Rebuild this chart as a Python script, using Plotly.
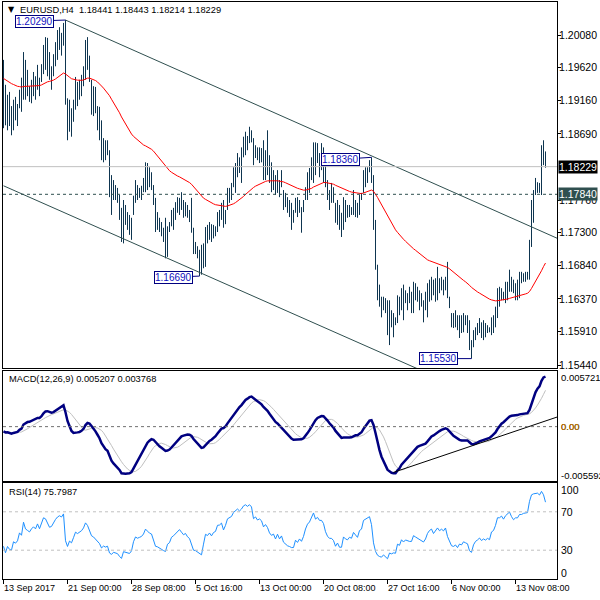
import numpy as np
import pandas as pd
import plotly.graph_objects as go

# ---------------- data (EURUSD H4, bars 13 Sep 16:00 .. 15 Nov 16:00) ----------------
high = [
1.1973, 1.1938, 1.1924, 1.1928, 1.1908, 1.1917, 1.1921, 1.1911, 1.1931, 1.1948,
1.1984, 1.1973, 1.1959, 1.1936, 1.1945, 1.1956, 1.1950, 1.1966, 1.1948, 1.1967,
1.1994, 1.2005, 1.2004, 1.1984, 1.1964, 1.1981, 1.1998, 1.2015, 1.2019, 1.2011,
1.2025, 1.2029, 1.1919, 1.1917, 1.1905, 1.1917, 1.1949, 1.1942, 1.1945, 1.1952,
1.1964, 1.2001, 1.2005, 1.1979, 1.1945, 1.1936, 1.1935, 1.1908, 1.1907, 1.1888,
1.1863, 1.1860, 1.1860, 1.1846, 1.1811, 1.1804, 1.1797, 1.1793, 1.1783, 1.1765,
1.1776, 1.1769, 1.1759, 1.1755, 1.1751, 1.1782, 1.1804, 1.1797, 1.1793, 1.1796,
1.1807, 1.1829, 1.1828, 1.1822, 1.1815, 1.1797, 1.1779, 1.1759, 1.1751, 1.1745,
1.1737, 1.1751, 1.1739, 1.1745, 1.1762, 1.1765, 1.1773, 1.1780, 1.1779, 1.1787,
1.1776, 1.1773, 1.1769, 1.1762, 1.1779, 1.1737, 1.1717, 1.1711, 1.1706, 1.1713,
1.1715, 1.1738, 1.1741, 1.1745, 1.1742, 1.1741, 1.1739, 1.1759, 1.1762, 1.1772,
1.1776, 1.1762, 1.1793, 1.1793, 1.1800, 1.1822, 1.1828, 1.1842, 1.1836, 1.1850,
1.1865, 1.1872, 1.1866, 1.1879, 1.1874, 1.1863, 1.1853, 1.1850, 1.1850, 1.1849,
1.1860, 1.1846, 1.1874, 1.1839, 1.1829, 1.1818, 1.1811, 1.1818, 1.1804, 1.1818,
1.1790, 1.1786, 1.1780, 1.1776, 1.1772, 1.1762, 1.1779, 1.1780, 1.1776, 1.1766,
1.1776, 1.1794, 1.1815, 1.1821, 1.1836, 1.1857, 1.1857, 1.1856, 1.1842, 1.1856,
1.1850, 1.1829, 1.1804, 1.1790, 1.1800, 1.1794, 1.1772, 1.1776, 1.1769, 1.1758,
1.1780, 1.1776, 1.1769, 1.1769, 1.1766, 1.1790, 1.1776, 1.1772, 1.1783, 1.1786,
1.1818, 1.1822, 1.1822, 1.1832, 1.1836, 1.1811, 1.1748, 1.1685, 1.1657, 1.1640,
1.1640, 1.1638, 1.1635, 1.1635, 1.1621, 1.1617, 1.1611, 1.1642, 1.1640, 1.1652,
1.1657, 1.1649, 1.1645, 1.1654, 1.1647, 1.1661, 1.1659, 1.1654, 1.1649, 1.1645,
1.1635, 1.1647, 1.1659, 1.1664, 1.1668, 1.1664, 1.1666, 1.1682, 1.1666, 1.1668,
1.1664, 1.1668, 1.1689, 1.1640, 1.1617, 1.1617, 1.1621, 1.1614, 1.1614, 1.1614,
1.1617, 1.1614, 1.1614, 1.1607, 1.1579, 1.1593, 1.1597, 1.1603, 1.1610, 1.1604,
1.1607, 1.1603, 1.1600, 1.1597, 1.1611, 1.1614, 1.1626, 1.1652, 1.1654, 1.1652,
1.1647, 1.1661, 1.1661, 1.1678, 1.1668, 1.1664, 1.1659, 1.1664, 1.1675, 1.1675,
1.1673, 1.1675, 1.1675, 1.1720, 1.1776, 1.1790, 1.1807, 1.1801, 1.1800, 1.1853,
1.1860, 1.18443,
]

low = [
1.1877, 1.1881, 1.1874, 1.1880, 1.1867, 1.1874, 1.1888, 1.1880, 1.1905, 1.1900,
1.1917, 1.1917, 1.1922, 1.1914, 1.1912, 1.1922, 1.1917, 1.1931, 1.1922, 1.1942,
1.1953, 1.1959, 1.1950, 1.1945, 1.1931, 1.1950, 1.1964, 1.1973, 1.1987, 1.1979,
1.1993, 1.1910, 1.1860, 1.1872, 1.1865, 1.1886, 1.1903, 1.1908, 1.1917, 1.1922,
1.1936, 1.1945, 1.1959, 1.1942, 1.1896, 1.1894, 1.1898, 1.1874, 1.1860, 1.1832,
1.1829, 1.1832, 1.1839, 1.1780, 1.1755, 1.1776, 1.1776, 1.1772, 1.1748, 1.1717,
1.1715, 1.1741, 1.1734, 1.1727, 1.1720, 1.1755, 1.1772, 1.1776, 1.1779, 1.1776,
1.1787, 1.1787, 1.1790, 1.1794, 1.1790, 1.1769, 1.1731, 1.1734, 1.1731, 1.1725,
1.1717, 1.1694, 1.1696, 1.1731, 1.1739, 1.1734, 1.1748, 1.1758, 1.1755, 1.1762,
1.1751, 1.1753, 1.1751, 1.1745, 1.1730, 1.1700, 1.1700, 1.1694, 1.1669, 1.1671,
1.1680, 1.1682, 1.1715, 1.1720, 1.1717, 1.1722, 1.1725, 1.1731, 1.1739, 1.1748,
1.1737, 1.1742, 1.1762, 1.1772, 1.1776, 1.1794, 1.1786, 1.1808, 1.1814, 1.1800,
1.1836, 1.1839, 1.1846, 1.1856, 1.1857, 1.1825, 1.1835, 1.1832, 1.1828, 1.1829,
1.1804, 1.1804, 1.1811, 1.1800, 1.1787, 1.1790, 1.1783, 1.1786, 1.1780, 1.1794,
1.1762, 1.1766, 1.1758, 1.1752, 1.1734, 1.1744, 1.1758, 1.1752, 1.1758, 1.1730,
1.1759, 1.1776, 1.1776, 1.1786, 1.1804, 1.1800, 1.1811, 1.1828, 1.1808, 1.1818,
1.1800, 1.1794, 1.1776, 1.1762, 1.1772, 1.1772, 1.1744, 1.1741, 1.1734, 1.1724,
1.1734, 1.1745, 1.1751, 1.1752, 1.1755, 1.1755, 1.1752, 1.1751, 1.1755, 1.1776,
1.1786, 1.1794, 1.1800, 1.1815, 1.1800, 1.1734, 1.1678, 1.1635, 1.1626, 1.1611,
1.1621, 1.1617, 1.1586, 1.1572, 1.1597, 1.1583, 1.1600, 1.1603, 1.1614, 1.1621,
1.1607, 1.1631, 1.1621, 1.1631, 1.1617, 1.1617, 1.1635, 1.1633, 1.1621, 1.1626,
1.1604, 1.1621, 1.1611, 1.1633, 1.1635, 1.1642, 1.1633, 1.1635, 1.1645, 1.1649,
1.1642, 1.1649, 1.1638, 1.1624, 1.1597, 1.1596, 1.1597, 1.1593, 1.1582, 1.1589,
1.1590, 1.1600, 1.1589, 1.1565, 1.1553, 1.1569, 1.1579, 1.1586, 1.1589, 1.1582,
1.1579, 1.1583, 1.1589, 1.1590, 1.1586, 1.1589, 1.1597, 1.1610, 1.1626, 1.1635,
1.1635, 1.1631, 1.1635, 1.1647, 1.1647, 1.1645, 1.1635, 1.1635, 1.1638, 1.1659,
1.1661, 1.1661, 1.1664, 1.1664, 1.1710, 1.1744, 1.1783, 1.1786, 1.1786, 1.1783,
1.1825, 1.18214,
]

close = [
1.1917, 1.1891, 1.1903, 1.1891, 1.1888, 1.1905, 1.1900, 1.1905, 1.1924, 1.1917,
1.1959, 1.1938, 1.1933, 1.1928, 1.1938, 1.1945, 1.1939, 1.1956, 1.1942, 1.1964,
1.1987, 1.1984, 1.1970, 1.1959, 1.1962, 1.1976, 1.1990, 1.2001, 1.2007, 1.2004,
1.2018, 1.1917, 1.1877, 1.1900, 1.1888, 1.1911, 1.1939, 1.1931, 1.1936, 1.1945,
1.1959, 1.1987, 1.1976, 1.1948, 1.1924, 1.1917, 1.1903, 1.1888, 1.1877, 1.1846,
1.1853, 1.1846, 1.1849, 1.1797, 1.1783, 1.1790, 1.1787, 1.1779, 1.1755, 1.1734,
1.1755, 1.1751, 1.1748, 1.1741, 1.1748, 1.1776, 1.1793, 1.1787, 1.1790, 1.1793,
1.1801, 1.1818, 1.1811, 1.1804, 1.1801, 1.1776, 1.1748, 1.1745, 1.1737, 1.1734,
1.1725, 1.1720, 1.1737, 1.1741, 1.1755, 1.1759, 1.1765, 1.1769, 1.1776, 1.1769,
1.1762, 1.1765, 1.1756, 1.1751, 1.1734, 1.1708, 1.1706, 1.1699, 1.1689, 1.1685,
1.1706, 1.1731, 1.1727, 1.1734, 1.1725, 1.1734, 1.1737, 1.1755, 1.1756, 1.1762,
1.1745, 1.1759, 1.1783, 1.1787, 1.1793, 1.1811, 1.1818, 1.1829, 1.1825, 1.1835,
1.1853, 1.1860, 1.1857, 1.1867, 1.1863, 1.1839, 1.1846, 1.1839, 1.1843, 1.1839,
1.1825, 1.1832, 1.1825, 1.1811, 1.1804, 1.1807, 1.1793, 1.1804, 1.1790, 1.1797,
1.1776, 1.1769, 1.1762, 1.1759, 1.1755, 1.1755, 1.1769, 1.1762, 1.1769, 1.1762,
1.1772, 1.1790, 1.1804, 1.1811, 1.1825, 1.1846, 1.1832, 1.1839, 1.1832, 1.1832,
1.1825, 1.1804, 1.1790, 1.1783, 1.1783, 1.1776, 1.1755, 1.1762, 1.1745, 1.1745,
1.1769, 1.1762, 1.1759, 1.1765, 1.1762, 1.1776, 1.1769, 1.1762, 1.1779, 1.1783,
1.1811, 1.1815, 1.1818, 1.1825, 1.1807, 1.1741, 1.1685, 1.1649, 1.1635, 1.1628,
1.1635, 1.1621, 1.1596, 1.1614, 1.1607, 1.1610, 1.1607, 1.1635, 1.1628, 1.1647,
1.1635, 1.1642, 1.1638, 1.1635, 1.1635, 1.1652, 1.1647, 1.1642, 1.1635, 1.1631,
1.1628, 1.1635, 1.1649, 1.1657, 1.1661, 1.1649, 1.1657, 1.1664, 1.1657, 1.1661,
1.1657, 1.1664, 1.1642, 1.1628, 1.1610, 1.1607, 1.1610, 1.1600, 1.1607, 1.1604,
1.1610, 1.1607, 1.1604, 1.1579, 1.1572, 1.1586, 1.1593, 1.1596, 1.1600, 1.1593,
1.1596, 1.1593, 1.1596, 1.1593, 1.1607, 1.1610, 1.1621, 1.1642, 1.1642, 1.1647,
1.1642, 1.1652, 1.1657, 1.1664, 1.1657, 1.1652, 1.1657, 1.1657, 1.1666, 1.1666,
1.1669, 1.1671, 1.1671, 1.1713, 1.1769, 1.1783, 1.1790, 1.1793, 1.1790, 1.1846,
1.1839, 1.18229,
]

tick_bars = [0, 32, 64, 96, 128, 160, 192, 224, 256]
tick_labels = ["13 Sep 2017", "21 Sep 00:00", "28 Sep 08:00", "5 Oct 16:00",
               "13 Oct 00:00", "20 Oct 08:00", "27 Oct 16:00", "6 Nov 00:00",
               "13 Nov 08:00"]
price_ticks = [1.20080, 1.19620, 1.19160, 1.18690, 1.17760, 1.17300,
               1.16840, 1.16370, 1.15910, 1.15440]

ohlc_title = "EURUSD,H4  1.18441 1.18443 1.18214 1.18229"
current_price = 1.18229
level_price = 1.17840

swing_bars = [31, 98, 184, 234]
swing_prices = [1.20290, 1.16690, 1.18360, 1.15530]

channel_upper_x = [31, 277]
channel_upper_y = [1.2029, 1.1722]
channel_lower_x = [0, 210]
channel_lower_y = [1.1796, 1.1535]

macd_trend_x = [195, 277]
macd_trend_y = [-0.0047, 0.0010]

macd_max, macd_min = 0.005721, -0.005592
macd_last_text = "MACD(12,26,9) 0.005207 0.003768"
rsi_last_text = "RSI(14) 75.7987"
rsi_levels = [70, 30]
rsi_scale_labels = [100, 70, 30, 0]

# indicator parameters / warm-up seeds (state before the first visible bar)
ema_period, ema_seed = 55, 1.1948
fast_p, slow_p, sig_p = 12, 26, 9
fast_seed, slow_seed = 1.1908, 1.1914
rsi_p, rsi_gain_seed, rsi_loss_seed = 14, 0.00030, 0.00058

# ---------------- indicators ----------------
c = np.array(close, dtype=float)
n = len(c)
idx = np.arange(n)


def ema(vals, period, seed):
    a = 2.0 / (period + 1)
    out, p = [], seed
    for v in vals:
        p = p + a * (v - p)
        out.append(p)
    return np.array(out)


ema55 = ema(c, ema_period, ema_seed)
macd = ema(c, fast_p, fast_seed) - ema(c, slow_p, slow_seed)
signal = pd.Series(macd).rolling(sig_p, min_periods=1).mean().values

diff = np.diff(c, prepend=c[0])
ag, al = rsi_gain_seed, rsi_loss_seed
rsi = []
for d in diff:
    ag = (ag * (rsi_p - 1) + max(d, 0)) / rsi_p
    al = (al * (rsi_p - 1) + max(-d, 0)) / rsi_p
    rsi.append(100 - 100 / (1 + ag / al) if al > 0 else 100)
rsi = np.array(rsi)

# ---------------- figure ----------------
BAR = '#0e3550'
NAVY = '#000080'
fig = go.Figure()

bx, by = [], []
for i in range(n):
    bx += [i, i, None]
    by += [low[i], high[i], None]
fig.add_trace(go.Scatter(x=bx, y=by, mode='lines', line=dict(color=BAR, width=1),
                         xaxis='x', yaxis='y', hoverinfo='skip'))
fig.add_trace(go.Scatter(x=idx, y=ema55, mode='lines', line=dict(color='#ff0000', width=1),
                         xaxis='x', yaxis='y'))
fig.add_trace(go.Scatter(x=channel_upper_x, y=channel_upper_y, mode='lines',
                         line=dict(color='#2f4f4f', width=1), xaxis='x', yaxis='y'))
fig.add_trace(go.Scatter(x=channel_lower_x, y=channel_lower_y, mode='lines',
                         line=dict(color='#2f4f4f', width=1), xaxis='x', yaxis='y'))

fig.add_trace(go.Scatter(x=idx, y=signal, mode='lines', line=dict(color='#c0c0c0', width=1),
                         xaxis='x2', yaxis='y2'))
fig.add_trace(go.Scatter(x=idx, y=macd, mode='lines', line=dict(color=NAVY, width=2.5),
                         xaxis='x2', yaxis='y2'))
fig.add_trace(go.Scatter(x=macd_trend_x, y=macd_trend_y, mode='lines',
                         line=dict(color='black', width=1), xaxis='x2', yaxis='y2'))
fig.add_trace(go.Scatter(x=idx, y=rsi, mode='lines', line=dict(color='#1e90ff', width=1),
                         xaxis='x3', yaxis='y3'))

shapes = [
    dict(type='line', xref='x domain', x0=0, x1=1, yref='y', y0=current_price, y1=current_price,
         line=dict(color='#c0c0c0', width=1)),
    dict(type='line', xref='x domain', x0=0, x1=1, yref='y', y0=level_price, y1=level_price,
         line=dict(color='#2f4f4f', width=1, dash='3px,3px')),
    dict(type='line', xref='x2 domain', x0=0, x1=1, yref='y2', y0=0, y1=0,
         line=dict(color='#707070', width=1, dash='3px,3px')),
]
for lv in rsi_levels:
    shapes.append(dict(type='line', xref='x3 domain', x0=0, x1=1, yref='y3', y0=lv, y1=lv,
                       line=dict(color='#c0c0c0', width=1, dash='3px,3px')))

FONT = 'Liberation Sans'
ann = []
ann.append(dict(xref='paper', yref='paper', x=0.005, y=0.9870, xanchor='left', yanchor='middle',
                text='▼', showarrow=False, font=dict(family='DejaVu Sans', size=8, color='black')))
ann.append(dict(xref='paper', yref='paper', x=0.0265, y=0.9870, xanchor='left', yanchor='middle',
                text=ohlc_title, showarrow=False, font=dict(family=FONT, size=9.3, color='black')))

swing_offsets = [(-31, 1), (-26, 1), (-31, 2), (-33, 0)]
for (b, p), (axo, ayo) in zip(zip(swing_bars, swing_prices), swing_offsets):
    ann.append(dict(xref='x', yref='y', x=b, y=p, text=f'{p:.5f}', showarrow=True,
                    arrowhead=0, arrowwidth=1, arrowcolor=NAVY, ax=axo, ay=ayo,
                    bordercolor=NAVY, borderwidth=1, borderpad=0, bgcolor='white',
                    font=dict(family=FONT, size=10, color='#1010c0')))

ann.append(dict(xref='paper', yref='y', x=1, y=current_price, xanchor='left', yanchor='middle',
                xshift=1, text=f'{current_price:.5f}', showarrow=False, bgcolor='black',
                borderpad=0, font=dict(family=FONT, size=10.5, color='white')))
ann.append(dict(xref='paper', yref='y', x=1, y=level_price, xanchor='left', yanchor='middle',
                xshift=1, text=f'{level_price:.5f}', showarrow=False, bgcolor='#2f4f4f',
                borderpad=0, font=dict(family=FONT, size=10.5, color='white')))

ann.append(dict(xref='paper', yref='y2', x=0.007, y=macd_max, xanchor='left', yanchor='middle',
                yshift=-8, text=macd_last_text, showarrow=False,
                font=dict(family=FONT, size=9.3, color='black')))
ann.append(dict(xref='paper', yref='y3', x=0.007, y=100, xanchor='left', yanchor='middle',
                yshift=-9, text=rsi_last_text, showarrow=False,
                font=dict(family=FONT, size=9.3, color='black')))

for val, txt, ys, col in [(macd_max, f'{macd_max:.6f}', -7, 'black'),
                          (0, '0.00', 0, 'black'), (0, '0.00', 0, '#d08000'),
                          (macd_min, f'{macd_min:.6f}', 6, 'black')]:
    ann.append(dict(xref='paper', yref='y2', x=1, y=val, xanchor='left', yanchor='middle',
                    xshift=2, yshift=ys, text=txt, showarrow=False,
                    font=dict(family=FONT, size=9.5, color=col)))
for val, ys in zip(rsi_scale_labels, [-7, 0, 0, 6]):
    ann.append(dict(xref='paper', yref='y3', x=1, y=val, xanchor='left', yanchor='middle',
                    xshift=2, yshift=ys, text=str(val), showarrow=False,
                    font=dict(family=FONT, size=10.5, color='black')))
for b, t in zip(tick_bars, tick_labels):
    ann.append(dict(xref='x3', yref='paper', x=b, y=-0.0156, xanchor='left', yanchor='middle',
                    xshift=-1, text=t, showarrow=False, borderpad=0,
                    font=dict(family=FONT, size=9, color='black')))

xr = [-0.25, 276.75]
axis_common = dict(range=xr, showgrid=False, zeroline=False, showline=True, mirror=True,
                   linecolor='black', linewidth=1, showticklabels=False, fixedrange=True)
fig.update_layout(
    width=600, height=600,
    margin=dict(l=3, r=43, t=2, b=21, autoexpand=False),
    paper_bgcolor='white', plot_bgcolor='white', showlegend=False,
    font=dict(family=FONT, size=10, color='black'),
    xaxis=dict(axis_common, domain=[0, 1], anchor='y', ticks=''),
    xaxis2=dict(axis_common, domain=[0, 1], anchor='y2', ticks=''),
    xaxis3=dict(axis_common, domain=[0, 1], anchor='y3', ticks='outside', ticklen=4,
                tickcolor='black', tickvals=tick_bars),
    yaxis=dict(domain=[0.3657, 1.0], range=[1.15398, 1.20544], side='right',
               showgrid=False, zeroline=False, showline=True, mirror=True, linecolor='black',
               tickvals=price_ticks, ticktext=[f'{v:.5f}' for v in price_ticks],
               ticks='outside', ticklen=3, tickcolor='black', anchor='x',
               ticklabelstandoff=-4, fixedrange=True,
               tickfont=dict(family=FONT, size=10.5, color='black')),
    yaxis2=dict(domain=[0.1698, 0.3605], range=[macd_min, macd_max], side='right',
                showgrid=False, zeroline=False, showline=True, mirror=True, linecolor='black',
                showticklabels=False, anchor='x2', fixedrange=True),
    yaxis3=dict(domain=[0.0, 0.1664], range=[0, 100], side='right',
                showgrid=False, zeroline=False, showline=True, mirror=True, linecolor='black',
                showticklabels=False, anchor='x3', fixedrange=True),
    shapes=shapes, annotations=ann,
)

fig.write_html("out.html", config={'displayModeBar': False},
               post_script="document.body.style.margin='0px';")
